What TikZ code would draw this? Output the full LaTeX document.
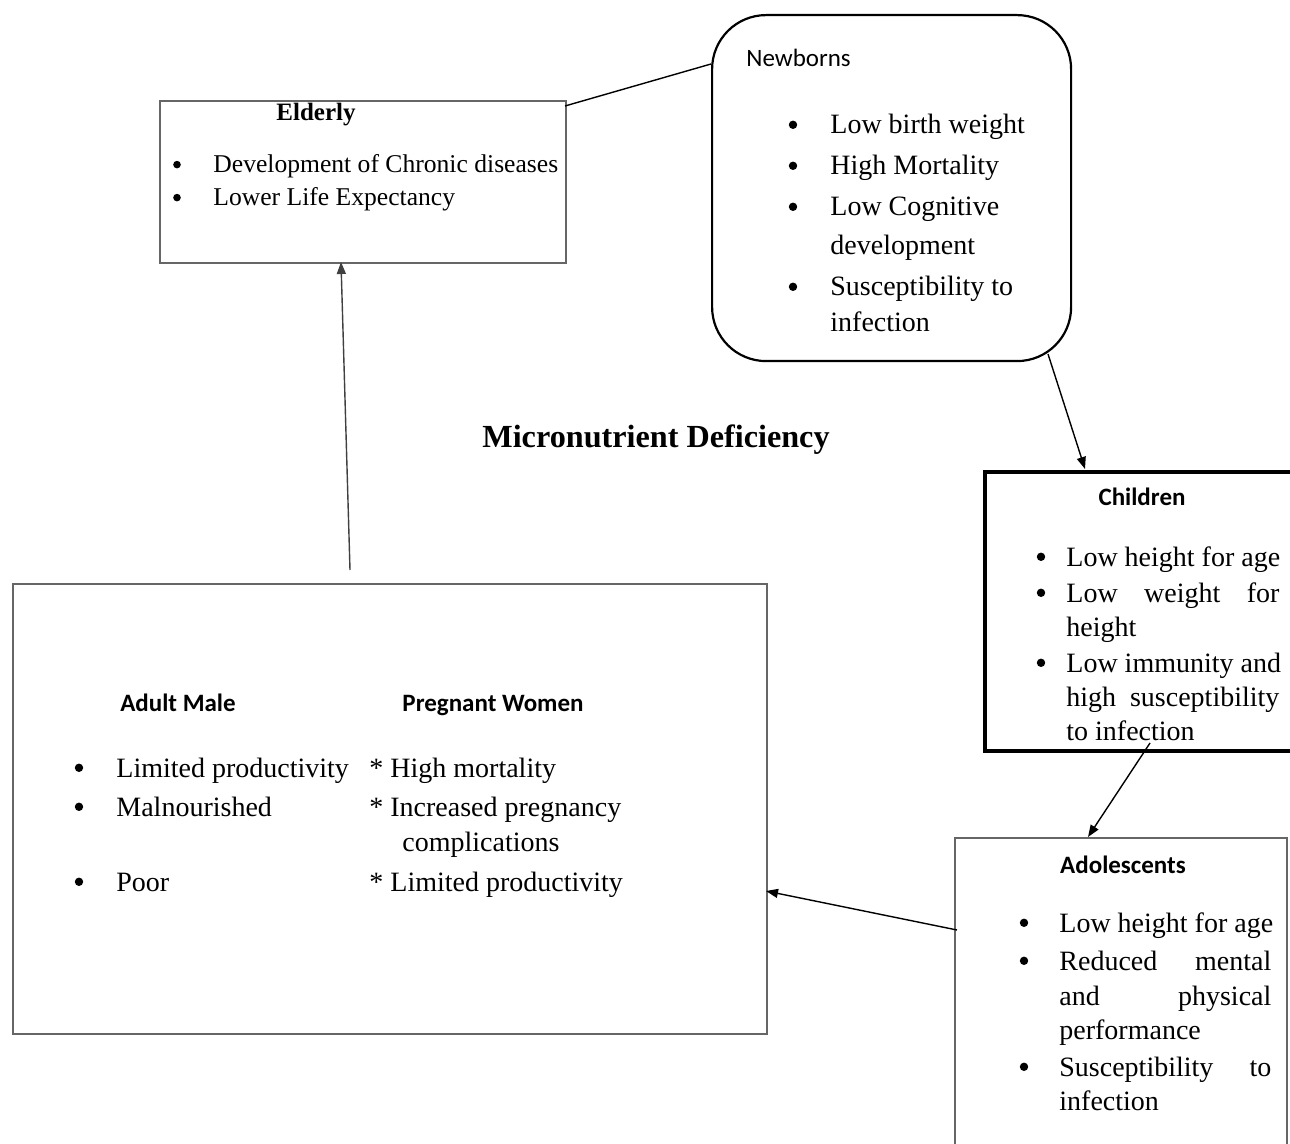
\documentclass[tikz,border=0pt]{standalone}
\usepackage{fontspec}
\setmainfont{Liberation Serif}
\newfontfamily\calibri{Carlito}
\usetikzlibrary{arrows.meta}
\begin{document}
\begin{tikzpicture}[x=0.5pt,y=-0.5pt,
  txt/.style={anchor=base west,inner sep=0pt,font=\fontsize{14pt}{17pt}\selectfont},
  etxt/.style={anchor=base west,inner sep=0pt,font=\fontsize{12.8pt}{15pt}\selectfont},
  bul/.style={circle,fill=black,inner sep=0pt,minimum size=4.2pt,yshift=4.6pt},
  sbul/.style={circle,fill=black,inner sep=0pt,minimum size=3.8pt,yshift=4.2pt},
  head/.style={anchor=base,inner sep=0pt,font=\calibri\bfseries\fontsize{12.5pt}{15pt}\selectfont},
  grayframe/.style={draw=black!60,line width=1pt},
  boxnode/.style={rectangle,inner sep=0pt,anchor=north west},
  conn/.style={line width=0.7pt,-{Triangle[length=6pt,width=4.5pt]}},
  plainconn/.style={line width=0.7pt},
]
\useasboundingbox (0,0) rectangle (1290,1144);

% boxes
\node (elderly) [boxnode,grayframe,minimum width=203pt,minimum height=81pt] at (159,100) {};
\node (newborns) [boxnode,draw=black,line width=1.1pt,rounded corners=27pt,minimum width=179.5pt,minimum height=173pt] at (711,14) {};
\node (adult) [boxnode,grayframe,minimum width=377pt,minimum height=225pt] at (12,583) {};
\coordinate (chTR) at (1292,472);
\coordinate (chTL) at (985,472);
\coordinate (chBL) at (985,751);
\coordinate (chBR) at (1292,751);
\draw[line width=1.6pt] (chTR) -- (chTL) -- (chBL) -- (chBR);
\coordinate (adBL) at (955,1146);
\coordinate (adTL) at (955,838);
\coordinate (adTR) at (1287,838);
\coordinate (adBR) at (1287,1146);
\draw[grayframe] (adBL) -- (adTL) -- (adTR) -- (adBR);

% title
\node (title) [anchor=base,inner sep=0pt,font=\bfseries\fontsize{16.1pt}{18pt}\selectfont] at (656,447) {Micronutrient Deficiency};

% Elderly
\node (eh) [anchor=base,inner sep=0pt,font=\bfseries\fontsize{12.5pt}{15pt}\selectfont] at (316,121) {Elderly};
\node (eb1) [sbul] at (177,173) {};
\node (eb2) [sbul] at (177,206) {};
\node (et1) [etxt] at (213,173) {Development of Chronic diseases};
\node (et2) [etxt] at (213,206) {Lower Life Expectancy};

% Newborns
\node (nh) [anchor=base west,inner sep=0pt,font=\calibri\fontsize{12.5pt}{15pt}\selectfont] at (746,67) {Newborns};
\node (nb1) [bul] at (793,134) {};
\node (nb2) [bul] at (793,175) {};
\node (nb3) [bul] at (793,216) {};
\node (nb4) [bul] at (793,296) {};
\node (nt1) [txt] at (830,134) {Low birth weight};
\node (nt2) [txt] at (830,175) {High Mortality};
\node (nt3) [txt] at (830,216) {Low Cognitive};
\node (nt4) [txt] at (830,255) {development};
\node (nt5) [txt] at (830,296) {Susceptibility to};
\node (nt6) [txt] at (830,332) {infection};

% Children
\node (chh) [head] at (1142,505) {Children};
\node (cb1) [bul] at (1041,566) {};
\node (cb2) [bul] at (1041,602) {};
\node (cb3) [bul] at (1041,672) {};
\node (ct1) [txt] at (1066,566) {Low height for age};
\node (ct2) [txt] at (1066,602) {\makebox[106.5pt]{Low\hfill weight\hfill for}};
\node (ct3) [txt] at (1066,636) {height};
\node (ct4) [txt] at (1066,672) {Low immunity and};
\node (ct5) [txt] at (1066,706) {\makebox[106.5pt]{high\hfill susceptibility}};
\node (ct6) [txt] at (1066,740) {to infection};

% Adolescents
\node (ah) [head] at (1123,873) {Adolescents};
\node (ab1) [bul] at (1024,932) {};
\node (ab2) [bul] at (1024,970) {};
\node (ab3) [bul] at (1024,1076) {};
\node (at1) [txt] at (1059,932) {Low height for age};
\node (at2) [txt] at (1059,970) {\makebox[106pt]{Reduced\hfill mental}};
\node (at3) [txt] at (1059,1005) {\makebox[106pt]{and\hfill physical}};
\node (at4) [txt] at (1059,1039) {performance};
\node (at5) [txt] at (1059,1076) {\makebox[106pt]{Susceptibility\hfill to}};
\node (at6) [txt] at (1059,1110) {infection};

% Adult male / pregnant women
\node (mh) [head] at (178,711) {Adult Male};
\node (wh) [head] at (493,711) {Pregnant Women};
\node (mb1) [bul] at (79,777) {};
\node (mb2) [bul] at (79,816) {};
\node (mb3) [bul] at (79,891) {};
\node (mt1) [txt] at (116,777) {Limited productivity};
\node (mt2) [txt] at (116,816) {Malnourished};
\node (mt3) [txt] at (116,891) {Poor};
\node (wt1) [txt] at (369,777) {* High mortality};
\node (wt2) [txt] at (369,816) {* Increased pregnancy};
\node (wt3) [txt] at (402,851) {complications};
\node (wt4) [txt] at (369,891) {* Limited productivity};

% connectors
\coordinate (c1s) at (565,106);
\coordinate (c1e) at (711,64);
\draw[plainconn] (c1s) -- (c1e);
\coordinate (c2s) at (1048,354);
\coordinate (c2e) at (1085,469);
\draw[conn] (c2s) -- (c2e);
\coordinate (c3s) at (1150,743);
\coordinate (c3e) at (1088,837);
\draw[conn] (c3s) -- (c3e);
\coordinate (c4s) at (957,930);
\coordinate (c4e) at (766,891);
\draw[conn] (c4s) -- (c4e);
\coordinate (c5s) at (350,570);
\coordinate (c5e) at (341,262);
\draw[conn,draw=black!75] (c5s) -- (c5e);
\end{tikzpicture}
\end{document}
